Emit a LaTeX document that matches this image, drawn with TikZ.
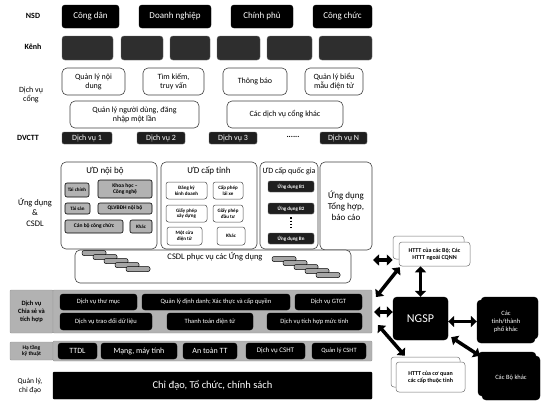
\documentclass[tikz,border=0pt]{standalone}
\usepackage{fontspec}
\setmainfont{Carlito}
\usetikzlibrary{arrows.meta,calc}
\tikzset{
  fs/.style 2 args={font=\fontsize{#1}{#2}\selectfont},
  bx/.style={rounded corners=3pt, inner sep=0pt, align=center},
  blk/.style={bx, fill=black, draw=black, text=white},
  dkb/.style={bx, fill=black!88, draw=black!60, text=white, rounded corners=2pt},
  kenh/.style={bx, fill=black!82, draw=black!60, rounded corners=3pt},
  wht/.style={bx, draw=black!75, fill=white, line width=0.6pt, rounded corners=5pt},
  swht/.style={bx, draw=black!70, fill=white, line width=0.5pt, rounded corners=2.5pt},
  gbx/.style={bx, draw=black, fill=black!30, line width=0.6pt, rounded corners=2pt},
  band/.style={bx, fill=black!30, draw=black!40, rounded corners=1pt},
  sketch/.style={bx, draw=black!55, fill=white, line width=0.5pt, rounded corners=3pt},
  lbl/.style={inner sep=0pt, align=center, fs={8}{9.5}},
  db/.style={draw=black, fill=black!35, rounded corners=2pt, line width=0.5pt, minimum width=24pt, minimum height=5pt, inner sep=0pt},
  dbl/.style={line width=3.5pt, {Triangle[length=6pt,width=11pt]}-{Triangle[length=6pt,width=11pt]}}
}
\newcommand{\bx}[7]{\node[#6, minimum width={(#4-#2)*1pt}, minimum height={(#5-#3)*1pt}] (#1) at ({(#2+#4)/2},{(#3+#5)/2}) {#7};}
\begin{document}
\begin{tikzpicture}[x=1pt,y=-1pt]
\useasboundingbox (0,0) rectangle (541,405);
% left labels
\node[lbl, font=\bfseries\fontsize{8}{9.5}\selectfont] (lNSD) at (33,16) {NSD};
\node[lbl, font=\bfseries\fontsize{8}{9.5}\selectfont] (lKenh) at (33,47) {Kênh};
\node[lbl] (lDVC) at (31,95) {Dịch vụ\\cổng};
\node[lbl, font=\bfseries\fontsize{8}{9.5}\selectfont] (lDVCTT) at (28,138) {DVCTT};
\node[lbl, fs={8.5}{10.5}] (lUD) at (35,212) {Ứng dụng\\\&\\CSDL};
\node[lbl, fs={7.5}{8.5}] (lQL) at (30,386) {Quản lý,\\chỉ đạo};
% NSD
\bx{cd}{62}{5}{119}{28}{blk,fs={9}{10}}{Công dân}
\bx{dn}{139}{5}{211}{28}{blk,fs={9}{10}}{Doanh nghiệp}
\bx{cp}{231}{5}{293}{28}{blk,fs={9}{10}}{Chính phủ}
\bx{cc}{313}{5}{372}{28}{blk,fs={9}{10}}{Công chức}
% Kenh
\bx{k1}{62}{36}{113}{60}{kenh}{}
\bx{k2}{121}{36}{163}{60}{kenh}{}
\bx{k3}{170}{36}{210}{60}{kenh}{}
\bx{k4}{217}{36}{260}{60}{kenh}{}
\bx{k5}{267}{36}{312}{60}{kenh}{}
\bx{k6}{319}{36}{372}{60}{kenh}{}
% Dich vu cong
\bx{q1}{62}{68}{125}{95}{wht,fs={8}{9}}{Quản lý nội\\dung}
\bx{q2}{143}{68}{204}{95}{wht,fs={8}{9}}{Tìm kiếm,\\truy vấn}
\bx{q3}{223}{68}{287}{95}{wht,fs={8}{9}}{Thông báo}
\bx{q4}{305}{68}{363}{95}{wht,fs={8}{9}}{Quản lý biểu\\mẫu điện tử}
\bx{q5}{70}{101}{199}{128}{wht,fs={8}{9}}{Quản lý người dùng, đăng\\nhập một lần}
\bx{q6}{227}{101}{343}{128}{wht,fs={8}{9}}{Các dịch vụ cổng khác}
% DVCTT
\bx{d1}{62}{132}{112}{144}{dkb,fs={8}{8.5}}{Dịch vụ 1}
\bx{d2}{137}{132}{185}{144}{dkb,fs={8}{8.5}}{Dịch vụ 2}
\bx{d3}{209}{132}{257}{144}{dkb,fs={8}{8.5}}{Dịch vụ 3}
\node[font=\bfseries\fontsize{8}{9}\selectfont, inner sep=0pt] (ddots) at (293,137) {......};
\bx{dN}{320}{132}{367}{144}{dkb,fs={8}{8.5}}{Dịch vụ N}
% Ung dung
\bx{nb}{61}{162}{157}{249}{wht}{}
\bx{tinhud}{161}{162}{257}{249}{wht}{}
\bx{qg}{260}{162}{318}{249}{wht}{}
\bx{th}{320}{162}{372}{250}{wht,fs={9}{11}}{Ứng dụng\\Tổng hợp,\\báo cáo}
\node[fs={9}{10}, inner sep=0pt] (tnb) at (105,171) {ƯD nội bộ};
\node[fs={9}{10}, inner sep=0pt] (ttinh) at (209,171) {ƯD cấp tỉnh};
\node[fs={8}{9}, inner sep=0pt] (tqg) at (289,171) {ƯD cấp quốc gia};
% noi bo
\bx{n1}{65}{183}{89}{197}{gbx,font=\bfseries\fontsize{5}{5.5}\selectfont}{Tài chính}
\bx{n2}{98}{180}{152}{198}{gbx,font=\bfseries\fontsize{5.5}{6.2}\selectfont}{Khoa học –\\Công nghệ}
\bx{n3}{65}{203}{90}{214}{gbx,font=\bfseries\fontsize{5}{5.5}\selectfont}{Tài sản}
\bx{n4}{98}{203}{152}{214}{gbx,font=\bfseries\fontsize{5.5}{6}\selectfont}{QLVBĐH nội bộ}
\bx{n5}{65}{220}{123}{233}{gbx,font=\bfseries\fontsize{5.5}{6}\selectfont}{Cán bộ công chức}
\bx{n6}{130}{220}{152}{233}{gbx,font=\bfseries\fontsize{5}{5.5}\selectfont}{Khác}
% cap tinh
\bx{t1}{166}{182}{207}{199}{swht,font=\bfseries\fontsize{5}{5.8}\selectfont}{Đăng ký\\kinh doanh}
\bx{t2}{213}{182}{243}{199}{swht,font=\bfseries\fontsize{5}{5.8}\selectfont}{Cấp phép\\lái xe}
\bx{t3}{166}{205}{207}{222}{swht,font=\bfseries\fontsize{5}{5.8}\selectfont}{Giấy phép\\xây dựng}
\bx{t4}{213}{205}{243}{222}{swht,font=\bfseries\fontsize{5}{5.8}\selectfont}{Giấy phép\\đầu tư}
\bx{t5}{167}{227}{202}{245}{swht,font=\bfseries\fontsize{5}{5.8}\selectfont}{Một cửa\\điện tử}
\bx{t6}{217}{227}{245}{245}{swht,font=\bfseries\fontsize{5}{5.8}\selectfont}{Khác}
% quoc gia
\bx{b1}{268}{181}{314}{192}{dkb,font=\bfseries\fontsize{5}{5.5}\selectfont}{Ứng dụng B1}
\bx{b2}{268}{203}{314}{214}{dkb,font=\bfseries\fontsize{5}{5.5}\selectfont}{Ứng dụng B2}
\bx{bn}{268}{233}{314}{244}{dkb,font=\bfseries\fontsize{5}{5.5}\selectfont}{Ứng dụng Bn}
\draw[line width=1.3pt, dotted] (b2.south) ++(0,3) coordinate (vd1) -- ($(bn.north)+(0,-3)$) coordinate (vd2);
% CSDL
\bx{csdl}{75}{250}{351}{283}{wht}{}
\node[fs={8.5}{10}, inner sep=0pt] (tcsdl) at (215,257) {CSDL phục vụ các Ứng dụng};
\foreach \i in {0,...,4}{
  \node[db] (dbl\i) at ({94+11*\i},{253+4*\i}) {};
  \node[db] (dbr\i) at ({284+11*\i},{259+4*\i}) {};
}
% Chia se
\bx{lCS}{10}{290}{53}{333}{band,font=\bfseries\fontsize{6.5}{7.8}\selectfont}{Dịch vụ\\Chia sẻ và\\tích hợp}
\bx{csband}{53}{290}{372}{333}{band}{}
\bx{c1}{60}{294}{137}{310}{blk,fs={6.5}{7}}{Dịch vụ thư mục}
\bx{c2}{142}{294}{290}{310}{blk,fs={6.5}{7}}{Quản lý định danh; Xác thực và cấp quyền}
\bx{c3}{295}{294}{362}{310}{blk,fs={6.5}{7}}{Dịch vụ GTGT}
\bx{c4}{60}{313}{152}{330}{blk,fs={6.5}{7}}{Dịch vụ trao đổi dữ liệu}
\bx{c5}{167}{313}{253}{330}{blk,fs={6.5}{7}}{Thanh toán điện tử}
\bx{c6}{267}{313}{362}{330}{blk,fs={6.5}{7}}{Dịch vụ tích hợp mức tỉnh}
% Ha tang
\bx{lHT}{10}{342}{53}{360}{band,font=\bfseries\fontsize{5.5}{6}\selectfont}{Hạ tầng\\kỹ thuật}
\bx{htband}{53}{341}{372}{361}{band}{}
\bx{h1}{58}{343}{97}{359}{blk,fs={8}{9}}{TTDL}
\bx{h2}{101}{343}{177}{359}{blk,fs={8}{9}}{Mạng, máy tính}
\bx{h3}{183}{343}{237}{359}{blk,fs={8}{9}}{An toàn TT}
\bx{h4}{246}{343}{305}{359}{blk,fs={7}{8}}{Dịch vụ CSHT}
\bx{h5}{312}{343}{366}{359}{blk,fs={6.5}{7}}{Quản lý CSHT}
% Quan ly
\bx{ql}{53}{372}{372}{399}{bx,fill=black,draw=black,text=white,rounded corners=1pt,fs={10.5}{12}}{Chỉ đạo, Tổ chức, chính sách}
% right side
\bx{htttBb}{393}{236}{464}{259}{sketch}{}
\bx{htttB}{399}{242}{470}{266}{sketch,font=\bfseries\fontsize{6}{7}\selectfont}{HTTT của các Bộ; Các\\HTTT ngoài CQNN}
\bx{ngsp}{393}{297}{448}{340}{blk,rounded corners=4pt,fs={12}{13}}{NGSP}
\bx{tinhb}{481}{297}{538}{339}{blk,rounded corners=4pt}{}
\bx{tinh}{477}{300}{535}{343}{blk,rounded corners=4pt,fs={6.5}{8}}{Các\\tỉnh/thành\\phố khác}
\bx{bob}{478}{352}{536}{396}{blk,rounded corners=4pt}{}
\bx{bo}{482}{356}{540}{400}{blk,rounded corners=4pt,fs={6.5}{7.5}}{Các Bộ khác}
\bx{htttTb}{391}{357}{460}{387}{sketch}{}
\bx{htttT}{396}{362}{465}{392}{sketch,font=\bfseries\fontsize{6}{7}\selectfont}{HTTT của cơ quan\\các cấp thuộc tỉnh}
% arrow free ends at the edge of the architecture
\coordinate (eA) at (373,260);
\coordinate (eB) at (376,297);
\coordinate (eC) at (374,312);
\coordinate (eD) at (378,325);
\draw[dbl] (eA) -- (eA -| htttBb.west);
\draw[dbl] (eB) -- ($(htttB.south west)+(1,1)$);
\draw[dbl] (eC) -- (eC -| ngsp.west);
\draw[dbl] (eD) -- ($(htttTb.north west)+(14,-1)$);
\draw[dbl] (ngsp.north) -- (ngsp.north |- htttB.south);
\draw[dbl] (tinh.west -| ngsp.east) -- (tinh.west);
\draw[dbl] ($(ngsp.south east)+(3,-3)$) -- ($(bob.north west)+(2,4)$);
\end{tikzpicture}
\end{document}
